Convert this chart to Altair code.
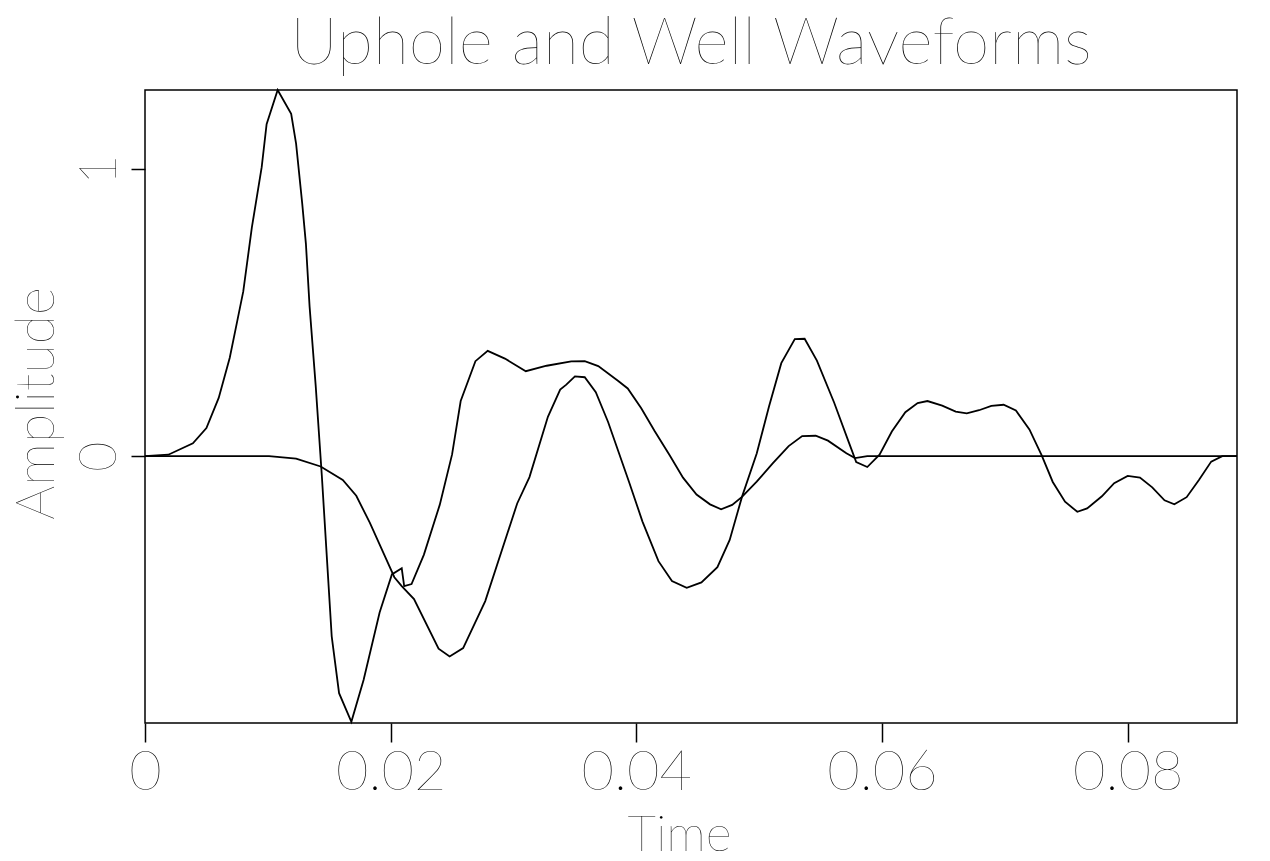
import altair as alt
import pandas as pd

# ---- data ----
uphole_time = [0, 0.0019, 0.0039, 0.0050, 0.0060, 0.0069, 0.0075, 0.0080, 0.0087, 0.0095,
               0.0099, 0.0108, 0.0119, 0.0123, 0.0128, 0.0131, 0.0134, 0.0139, 0.0144, 0.0149,
               0.0152, 0.0158, 0.0168, 0.0178, 0.0191, 0.0201, 0.0209, 0.0211, 0.0217, 0.0227,
               0.0240, 0.0250, 0.0257, 0.0269, 0.0279, 0.0293, 0.0310, 0.0327, 0.0347, 0.0358,
               0.0369, 0.0385, 0.0393, 0.0404, 0.0415, 0.0427, 0.0438, 0.0449, 0.0460, 0.0469,
               0.0478, 0.0486, 0.0498, 0.0511, 0.0524, 0.0535, 0.0546, 0.0556, 0.0571, 0.0578,
               0.0588, 0.0889]
uphole_amp = [0, 0.005, 0.045, 0.098, 0.203, 0.343, 0.469, 0.574, 0.797, 1.007,
              1.157, 1.276, 1.193, 1.089, 0.880, 0.740, 0.521, 0.243, -0.071, -0.419,
              -0.628, -0.826, -0.926, -0.779, -0.545, -0.412, -0.391, -0.453, -0.446, -0.344,
              -0.169, 0.006, 0.192, 0.331, 0.367, 0.340, 0.296, 0.315, 0.330, 0.331,
              0.314, 0.263, 0.236, 0.167, 0.087, 0.004, -0.075, -0.134, -0.168, -0.185,
              -0.170, -0.142, -0.089, -0.025, 0.035, 0.070, 0.071, 0.054, 0.010, -0.007,
              0, 0]

well_time = [0, 0.0077, 0.0101, 0.0123, 0.0143, 0.0161, 0.0172, 0.0183, 0.0195, 0.0203,
             0.0209, 0.0219, 0.0239, 0.0248, 0.0259, 0.0277, 0.0303, 0.0313, 0.0328, 0.0338,
             0.0343, 0.0350, 0.0358, 0.0367, 0.0377, 0.0394, 0.0405, 0.0418, 0.0429, 0.0441,
             0.0453, 0.0466, 0.0476, 0.0486, 0.0498, 0.0508, 0.0518, 0.0529, 0.0537, 0.0547,
             0.0561, 0.0573, 0.0579, 0.0588, 0.0598, 0.0608, 0.0619, 0.0629, 0.0637, 0.0649,
             0.0660, 0.0669, 0.0679, 0.0689, 0.0699, 0.0709, 0.0720, 0.0730, 0.0739, 0.0749,
             0.0759, 0.0767, 0.0779, 0.0789, 0.0800, 0.0810, 0.0820, 0.0830, 0.0838, 0.0848,
             0.0858, 0.0868, 0.0877, 0.0889]
well_amp = [0, 0, 0, -0.009, -0.036, -0.083, -0.138, -0.232, -0.346, -0.422,
            -0.453, -0.498, -0.671, -0.698, -0.669, -0.505, -0.165, -0.073, 0.137, 0.232,
            0.249, 0.278, 0.275, 0.223, 0.119, -0.089, -0.228, -0.366, -0.435, -0.459,
            -0.440, -0.387, -0.292, -0.142, 0.009, 0.173, 0.324, 0.408, 0.409, 0.333,
            0.187, 0.048, -0.021, -0.038, 0.005, 0.086, 0.153, 0.185, 0.192, 0.176,
            0.155, 0.149, 0.160, 0.175, 0.179, 0.159, 0.093, 0.003, -0.090, -0.159,
            -0.194, -0.182, -0.140, -0.094, -0.069, -0.075, -0.109, -0.154, -0.168, -0.143,
            -0.083, -0.019, 0, 0]

x_ticks = [0, 0.02, 0.04, 0.06, 0.08]
y_ticks = [0, 1]
x_domain = [0, 0.0889]
y_domain = [-0.93, 1.276]

rows = [{"Time": t, "Amplitude": a, "series": "Uphole"} for t, a in zip(uphole_time, uphole_amp)]
rows += [{"Time": t, "Amplitude": a, "series": "Well"} for t, a in zip(well_time, well_amp)]
df = pd.DataFrame(rows)

FONT = "Lato"
WEIGHT = 200

chart = alt.Chart(df).mark_line(color="black", strokeWidth=1.8).encode(
    x=alt.X("Time:Q",
            scale=alt.Scale(domain=x_domain, nice=False, zero=False),
            axis=alt.Axis(values=x_ticks, format="~g", title="Time", grid=False, domain=False,
                          labelFont=FONT, labelFontWeight=WEIGHT, labelFontSize=56,
                          labelBaseline="alphabetic", labelPadding=47, tickSize=19,
                          labelFlush=False, labelOverlap=False,
                          titleFont=FONT, titleFontWeight=WEIGHT, titleFontSize=50,
                          titleBaseline="alphabetic", titleY=127, titleX=534)),
    y=alt.Y("Amplitude:Q",
            scale=alt.Scale(domain=y_domain, nice=False, zero=False),
            axis=alt.Axis(values=y_ticks, format="d", title="Amplitude", grid=False, domain=False,
                          labelFont=FONT, labelFontWeight=WEIGHT, labelFontSize=52,
                          labelAngle=270, labelAlign="center", labelBaseline="alphabetic",
                          labelPadding=16, tickSize=14, labelFlush=False,
                          titleFont=FONT, titleFontWeight=WEIGHT, titleFontSize=54,
                          titleAngle=270, titleAlign="center", titleBaseline="alphabetic",
                          titleX=-92, titleY=313)),
    detail="series:N",
).properties(
    width=1092,
    height=633,
    background="white",
    title=alt.TitleParams("Uphole and Well Waveforms", font=FONT, fontWeight=WEIGHT,
                          fontSize=66, color="black", anchor="middle", offset=8),
    autosize=alt.AutoSizeParams(type="none"),
    padding={"left": 145, "top": 90, "right": 33, "bottom": 138},
).configure_view(
    stroke="black", strokeWidth=1.5
).configure_axis(
    tickColor="black", tickWidth=1.5, labelColor="black", titleColor="black"
)

chart.save("out.html", embed_options={"renderer": "svg", "actions": False})
